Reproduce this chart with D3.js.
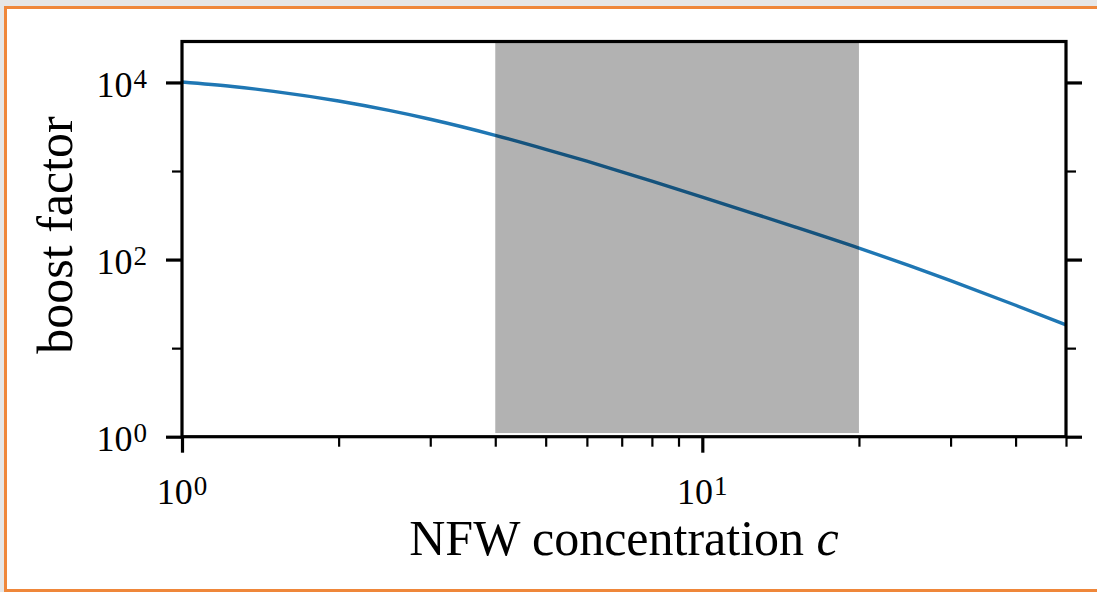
<!DOCTYPE html>
<html>
<head>
<meta charset="utf-8">
<script src="https://cdn.jsdelivr.net/npm/d3@7"></script>
<style>
  html, body { margin: 0; padding: 0; width: 1097px; height: 592px; overflow: hidden; background: #e6e6e6; }
  #frame {
    position: absolute; left: 4px; top: 6px; width: 1110px; height: 580px;
    background: #ffffff; border: 3px solid #ef873a; border-right: none;
  }
  svg { position: absolute; left: 0; top: 0; }
  text { font-family: "Liberation Serif", "Times New Roman", serif; fill: #000; }
</style>
</head>
<body>
<div id="frame"></div>
<svg id="chart" width="1097" height="592"></svg>
<script>
// NFW concentration values and the corresponding boost factor
const concentration = [1, 1.25, 1.5, 2, 2.5, 3, 4, 5, 6, 7, 8, 10, 12, 15, 20, 25, 30, 40, 50];
const boost = [10100, 9000, 7940, 6170, 4830, 3840, 2530, 1760, 1290, 979, 767, 507, 360, 236, 135, 85.5, 57.8, 30.5, 18.3];

// Shaded concentration range
const bandRange = [4, 20];
const bandFloor = 1.1;

// Axis ticks
const xMajorTicks = [1, 10];
const xMinorTicks = [2, 3, 4, 5, 6, 7, 8, 9, 20, 30, 40, 50];
const xTickExponents = ["0", "1"];
const yMajorTicks = [1, 100, 10000];
const yMinorTicks = [10, 1000];
const yTickExponents = ["0", "2", "4"];

const xLabel = "NFW concentration ";
const xLabelVar = "c";
const yLabel = "boost factor";

const svg = d3.select("#chart");
const plotLeft = 182, plotRight = 1066, plotTop = 41.5, plotBottom = 436.7;

const x = d3.scaleLog().domain([1, 50]).range([plotLeft, plotRight]);
const y = d3.scaleLog().domain([1, 29000]).range([plotBottom, plotTop]);

svg.append("defs").append("clipPath").attr("id", "plotClip")
  .append("rect").attr("x", plotLeft).attr("y", plotTop)
  .attr("width", plotRight - plotLeft).attr("height", plotBottom - plotTop);

// Boost-factor curve
const line = d3.line()
  .x((d, i) => x(concentration[i]))
  .y(d => y(d))
  .curve(d3.curveMonotoneX);

svg.append("path")
  .datum(boost)
  .attr("clip-path", "url(#plotClip)")
  .attr("d", line)
  .attr("fill", "none")
  .attr("stroke", "#1f77b4")
  .attr("stroke-width", 3.4);

// Translucent band over the curve
svg.append("rect")
  .attr("x", x(bandRange[0]))
  .attr("y", plotTop)
  .attr("width", x(bandRange[1]) - x(bandRange[0]))
  .attr("height", y(bandFloor) - plotTop)
  .attr("fill", "#000")
  .attr("fill-opacity", 0.3);

// Ticks via d3 axes (labels drawn separately with superscripts)
function styleAxis(g, w) {
  g.select(".domain").remove();
  g.selectAll(".tick line").attr("stroke", "#000").attr("stroke-width", w);
  g.selectAll(".tick text").remove();
}

svg.append("g").attr("transform", `translate(0,${plotBottom})`)
  .call(d3.axisBottom(x).tickValues(xMinorTicks).tickSize(10).tickFormat(""))
  .call(g => styleAxis(g, 2.2));
svg.append("g").attr("transform", `translate(0,${plotBottom})`)
  .call(d3.axisBottom(x).tickValues(xMajorTicks).tickSize(16).tickFormat(""))
  .call(g => styleAxis(g, 3.2));

svg.append("g").attr("transform", `translate(${plotLeft},0)`)
  .call(d3.axisLeft(y).tickValues(yMinorTicks).tickSize(10).tickFormat(""))
  .call(g => styleAxis(g, 2.2));
svg.append("g").attr("transform", `translate(${plotLeft},0)`)
  .call(d3.axisLeft(y).tickValues(yMajorTicks).tickSize(16).tickFormat(""))
  .call(g => styleAxis(g, 3.2));

svg.append("g").attr("transform", `translate(${plotRight},0)`)
  .call(d3.axisRight(y).tickValues(yMinorTicks).tickSize(10).tickFormat(""))
  .call(g => styleAxis(g, 2.2));
svg.append("g").attr("transform", `translate(${plotRight},0)`)
  .call(d3.axisRight(y).tickValues(yMajorTicks).tickSize(16).tickFormat(""))
  .call(g => styleAxis(g, 3.2));

// Plot frame
svg.append("rect")
  .attr("x", plotLeft).attr("y", plotTop)
  .attr("width", plotRight - plotLeft).attr("height", plotBottom - plotTop)
  .attr("fill", "none").attr("stroke", "#000").attr("stroke-width", 3.2);

// Tick labels: 10 with a superscript exponent
function powerLabel(sel, exp) {
  sel.append("tspan").text("10");
  sel.append("tspan").attr("font-size", 27).attr("dy", -9).attr("dx", 1).text(exp);
}

xMajorTicks.forEach((v, i) => {
  svg.append("text")
    .attr("x", x(v)).attr("y", 504)
    .attr("text-anchor", "middle")
    .attr("font-size", 36)
    .call(powerLabel, xTickExponents[i]);
});

yMajorTicks.forEach((v, i) => {
  svg.append("text")
    .attr("x", 147).attr("y", y(v) + 14.5)
    .attr("text-anchor", "end")
    .attr("font-size", 36)
    .call(powerLabel, yTickExponents[i]);
});

// Axis titles
const xt = svg.append("text")
  .attr("x", (plotLeft + plotRight) / 2).attr("y", 555)
  .attr("text-anchor", "middle")
  .attr("font-size", 50);
xt.append("tspan").text(xLabel);
xt.append("tspan").attr("font-style", "italic").text(xLabelVar);

svg.append("text")
  .attr("transform", `translate(72,235) rotate(-90)`)
  .attr("text-anchor", "middle")
  .attr("font-size", 50)
  .text(yLabel);
</script>
</body>
</html>
